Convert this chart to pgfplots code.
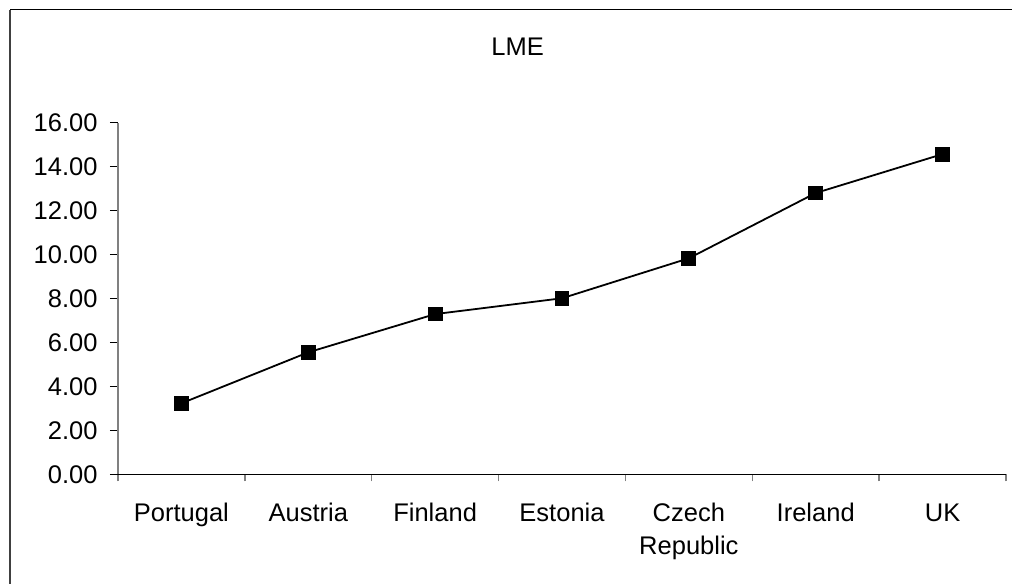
\documentclass[border=0pt]{standalone}
\usepackage{pgfplots}
\pgfplotsset{compat=1.18}
\usepackage{fontspec}
\setmainfont{Liberation Sans}

\begin{document}
\begin{tikzpicture}
  % page = 1012 x 584 px, 1bp per px
  \useasboundingbox (0,0) rectangle (1012bp,584bp);
  % chart area frame (right and bottom cut off in the original)
  \draw[line width=2bp, black!75] (10bp,0) -- (10bp,574bp);
  \draw[line width=1bp, black] (10bp,574bp) -- (1012bp,574bp);

  \begin{axis}[
      at={(118bp,109.7bp)}, anchor=south west,
      scale only axis,
      width=888bp, height=351.6bp,
      xmin=0.5, xmax=7.5,
      ymin=0, ymax=16,
      axis lines=left,
      axis line style={-},
      x axis line style={black, line width=1bp},
      y axis line style={black!50, line width=1.5bp},
      xtick={1,...,7},
      xticklabels={Portugal,Austria,Finland,Estonia,{Czech\\Republic},Ireland,UK},
      minor xtick={0.5,1.5,...,7.5},
      major x tick style={draw=none},
      minor x tick style={black!50, line width=1.5bp},
      minor tick length=7bp,
      ytick={0,2,...,16},
      major y tick style={black, line width=1bp},
      major tick length=8bp,
      tick align=outside,
      typeset ticklabels with strut,
      every tick label/.append style={font=\fontsize{25.5bp}{33bp}\selectfont},
      xticklabel style={align=center, yshift=-13bp},
      yticklabel style={xshift=-9bp},
      /pgf/number format/assume math mode=true,
      yticklabel={\pgfmathprintnumber[fixed,fixed zerofill,precision=2]{\tick}},
      clip=false,
    ]
    \addplot[black, line width=1.8bp, mark=square*, mark size=6.5bp,
             mark options={solid, fill=black}] coordinates {
      (1, 3.23)
      (2, 5.55)
      (3, 7.29)
      (4, 8.01)
      (5, 9.83)
      (6, 12.80)
      (7, 14.57)
    };
    \node[font=\fontsize{25.5bp}{30bp}\selectfont] at (rel axis cs:0.450,1.215) {LME};
  \end{axis}
\end{tikzpicture}
\end{document}
